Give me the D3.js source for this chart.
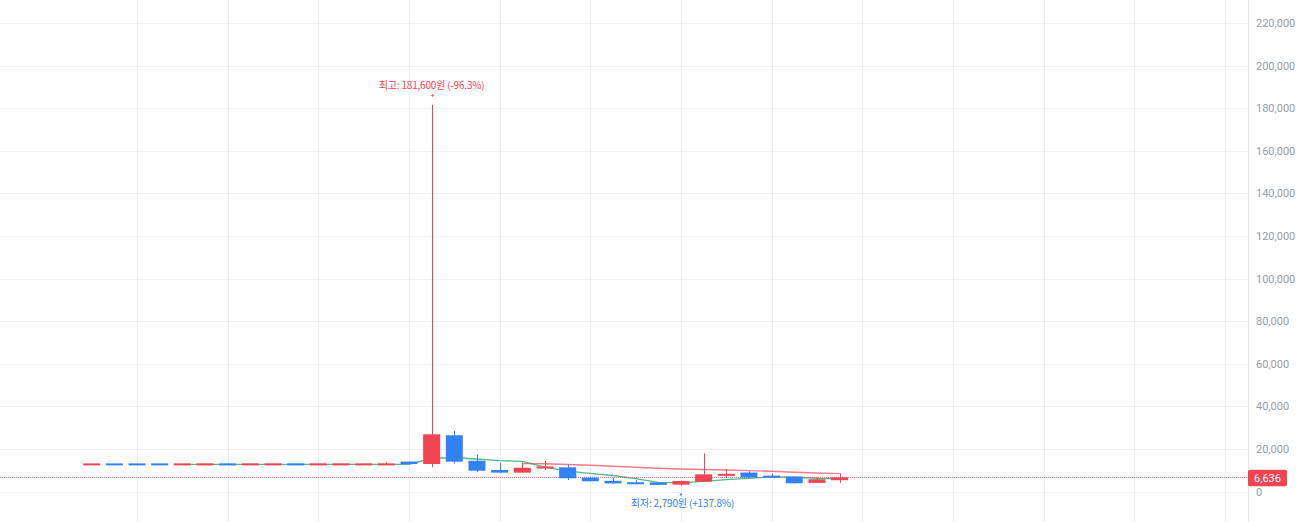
<!DOCTYPE html>
<html>
<head>
<meta charset="utf-8">
<script src="https://cdn.jsdelivr.net/npm/d3@7/dist/d3.min.js"></script>
<style>
  html, body { margin: 0; padding: 0; background: #ffffff; overflow: hidden; }
  svg { display: block; }
</style>
</head>
<body>
<svg id="chart" width="1302" height="522"></svg>
<script>
// ---- data ----
const categories = ["P01","P02","P03","P04","P05","P06","P07","P08","P09","P10",
  "P11","P12","P13","P14","P15","P16","P17","P18","P19","P20",
  "P21","P22","P23","P24","P25","P26","P27","P28","P29","P30",
  "P31","P32","P33","P34"];
const opens  = [12700,12750,12750,12750,12700,12700,12750,12700,12700,12750,
  12700,12700,12700,12700,14050,12900,26400,14450,10100,8850,
  10900,11350,6550,5000,4100,4250,3200,4600,7400,8900,
  7200,7000,4050,5300];
const highs  = [12750,12750,12750,12750,12750,12750,12750,12750,12750,12750,
  12750,12750,12750,13700,14050,181600,28400,17450,13500,13500,
  14300,12750,6950,6450,5300,4400,5000,17900,10450,9450,
  8450,7000,6650,8500];
const lows   = [12700,12700,12700,12700,12700,12700,12700,12700,12700,12700,
  12700,12700,12700,12700,12900,11350,13250,9300,8850,8850,
  10100,5400,4800,3800,3500,3000,2790,4600,6300,6550,
  6700,3800,4000,4100];
const closes = [12750,12700,12700,12700,12750,12750,12700,12750,12750,12700,
  12750,12750,12750,12750,12900,26850,14000,9750,8850,11170,
  11650,6200,4800,3800,3650,3100,4950,8050,8250,6550,
  6750,3850,5750,6636];
const ma5  = [null,null,null,null,12720,12720,12720,12730,12740,12730,
  12730,12740,12740,12740,12780,15600,15850,15250,14470,14120,
  11400,9520,8530,7520,6020,4310,4060,4710,5600,6180,
  6910,6690,6230,5910];
const ma20 = [null,null,null,null,null,null,null,null,null,null,
  null,null,null,null,null,null,null,null,null,13090,
  13030,12710,12310,11870,11410,10930,10540,10310,10080,9780,
  9480,9030,8680,8380];
const yTicks = [0,20000,40000,60000,80000,100000,120000,140000,160000,180000,200000,220000];
const highLabel = "최고: 181,600원 (-96.3%)";
const lowLabel  = "최저: 2,790원 (+137.8%)";
const lastPrice = 6636;

// ---- drawing ----
const W = 1302, H = 522, plotRight = 1248;
const RED = "#f04452", BLUE = "#3182f6";
const svg = d3.select("#chart");

const x = d3.scaleLinear().domain([0, categories.length - 1]).range([91.7, 839.6]);
const y = d3.scaleLinear().domain([0, 220000]).range([491.5, 22.9]);
const bodyW = 17;

// vertical grid (every 4 slots)
const gx = [];
for (let i = 2; x(i) < plotRight; i += 4) gx.push(i);
svg.append("g").selectAll("line").data(gx).join("line")
  .attr("x1", d => Math.round(x(d)) + 0.5).attr("x2", d => Math.round(x(d)) + 0.5)
  .attr("y1", 0).attr("y2", H)
  .attr("stroke", "#f0f1f4").attr("stroke-width", 1);

// horizontal grid
svg.append("g").selectAll("line").data(yTicks).join("line")
  .attr("x1", 0).attr("x2", plotRight)
  .attr("y1", d => Math.round(y(d)) + 0.5).attr("y2", d => Math.round(y(d)) + 0.5)
  .attr("stroke", "#f0f1f4").attr("stroke-width", 1);

// y axis line
svg.append("line")
  .attr("x1", plotRight + 0.5).attr("x2", plotRight + 0.5)
  .attr("y1", 0).attr("y2", H)
  .attr("stroke", "#e3e6ea").attr("stroke-width", 1);

// axis labels
const axis = d3.axisRight(y).tickValues(yTicks).tickFormat(d3.format(","))
  .tickSize(0).tickPadding(8);
const ag = svg.append("g").attr("transform", `translate(${plotRight},0)`).call(axis);
ag.select(".domain").remove();
ag.selectAll("text")
  .attr("fill", "#959ea9")
  .style("font-family", "Roboto, 'Noto Sans', sans-serif")
  .style("font-size", "11px");

// moving averages
const idx = d3.range(categories.length);
const line = arr => d3.line()
  .defined(i => arr[i] != null)
  .x(i => x(i)).y(i => y(arr[i]))(idx);

svg.append("path").attr("d", line(ma20))
  .attr("fill", "none").attr("stroke", RED).attr("stroke-opacity", 0.7)
  .attr("stroke-width", 1.4);
svg.append("path").attr("d", line(ma5))
  .attr("fill", "none").attr("stroke", "#1f9d63").attr("stroke-opacity", 0.75)
  .attr("stroke-width", 1.3);

// current price dotted line
svg.append("line")
  .attr("x1", 0).attr("x2", plotRight)
  .attr("y1", y(lastPrice)).attr("y2", y(lastPrice))
  .attr("stroke", RED).attr("stroke-opacity", 0.8)
  .attr("stroke-width", 1).attr("stroke-dasharray", "1,1");

// candles
const cg = svg.append("g").selectAll("g").data(idx).join("g");
const col = i => closes[i] >= opens[i] ? RED : BLUE;
cg.append("line")
  .attr("x1", i => Math.round(x(i)) + 0.5).attr("x2", i => Math.round(x(i)) + 0.5)
  .attr("y1", i => y(highs[i])).attr("y2", i => y(lows[i]))
  .attr("stroke", col).attr("stroke-width", 1);
cg.append("rect")
  .attr("x", i => x(i) - bodyW / 2)
  .attr("width", bodyW)
  .attr("y", i => {
    const top = y(Math.max(opens[i], closes[i]));
    const h = Math.abs(y(opens[i]) - y(closes[i]));
    return h < 2 ? top - (2 - h) / 2 : top;
  })
  .attr("height", i => Math.max(2, Math.abs(y(opens[i]) - y(closes[i]))))
  .attr("fill", col);

// high / low annotations
const hiIdx = d3.maxIndex(highs), loIdx = d3.minIndex(lows);
const fontKR = "'Noto Sans CJK KR', 'Noto Sans', sans-serif";
const hx = Math.round(x(hiIdx)) + 0.5;
svg.append("text").text(highLabel)
  .attr("x", x(hiIdx)).attr("y", 89)
  .attr("text-anchor", "middle").attr("fill", RED)
  .style("font-family", fontKR).style("font-size", "10px")
  .style("letter-spacing", "-0.2px");
svg.append("path")
  .attr("d", `M${hx - 1.5},95.5H${hx + 1.5}M${hx},94V97`)
  .attr("stroke", RED).attr("stroke-opacity", 0.7).attr("stroke-width", 1);
svg.append("text").text(lowLabel)
  .attr("x", x(loIdx) + 1.5).attr("y", 507)
  .attr("text-anchor", "middle").attr("fill", BLUE)
  .style("font-family", fontKR).style("font-size", "10px")
  .style("letter-spacing", "-0.15px");
svg.append("circle")
  .attr("cx", x(loIdx)).attr("cy", 494.5).attr("r", 1.3)
  .attr("fill", BLUE).attr("fill-opacity", 0.8);

// last price label
const py = y(lastPrice);
svg.append("rect")
  .attr("x", plotRight).attr("y", py - 7.5)
  .attr("width", 39).attr("height", 16.5).attr("rx", 2)
  .attr("fill", RED);
svg.append("text").text(d3.format(",")(lastPrice))
  .attr("x", plotRight + 19.5).attr("y", py + 4.8)
  .attr("text-anchor", "middle").attr("fill", "#ffffff")
  .style("font-family", "Roboto, 'Noto Sans', sans-serif")
  .style("font-size", "11px");
</script>
</body>
</html>
